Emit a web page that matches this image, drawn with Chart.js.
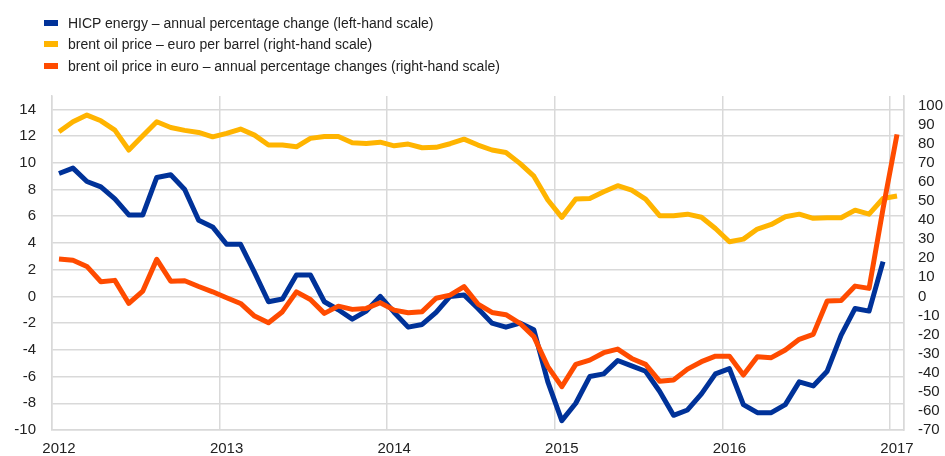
<!DOCTYPE html>
<html lang="en">
<head>
    <meta charset="UTF-8">
    <title>HICP energy and brent oil price</title>
    <script src="https://cdn.jsdelivr.net/npm/chart.js"></script>
    <style>
        body {
            margin: 0;
            background: #fff;
            font-family: 'Liberation Sans', Arial, sans-serif;
        }
        .wrap {
            position: relative;
            width: 945px;
            height: 456px;
        }
        .legend {
            position: absolute;
            left: 44px;
            top: 12.5px;
            font-size: 14px;
            color: #222;
        }
        .legend div {
            height: 21.5px;
            line-height: 21.5px;
            white-space: nowrap;
        }
        .legend span {
            display: inline-block;
            width: 14px;
            height: 6px;
            margin-right: 10px;
            vertical-align: middle;
            position: relative;
            top: -1px;
        }
    </style>
</head>
<body>
    <div class="wrap">
        <canvas id="chart" width="945" height="456"></canvas>
        <div class="legend" id="legend"></div>
    </div>

    <script>
        const years = ['2012', '2013', '2014', '2015', '2016', '2017'];
        const leftTicks = [-10, -8, -6, -4, -2, 0, 2, 4, 6, 8, 10, 12, 14];
        const rightTicks = [-70, -60, -50, -40, -30, -20, -10, 0, 10, 20, 30, 40, 50, 60, 70, 80, 90, 100];
        const seriesNames = [
            'HICP energy – annual percentage change (left-hand scale)',
            'brent oil price – euro per barrel (right-hand scale)',
            'brent oil price in euro – annual percentage changes (right-hand scale)'
        ];
        const colors = ['#003299', '#ffb400', '#ff4b00'];

        // monthly, Jan 2012 - Jan 2017
        const hicpEnergy = [
            9.2, 9.6, 8.6, 8.2, 7.3, 6.1, 6.1, 8.9, 9.1, 8.0, 5.7, 5.2,
            3.9, 3.9, 1.8, -0.4, -0.2, 1.6, 1.6, -0.4, -1.0, -1.7, -1.1, 0.0,
            -1.2, -2.3, -2.1, -1.2, 0.0, 0.1, -0.9, -2.0, -2.3, -2.0, -2.5, -6.4,
            -9.3, -8.0, -6.0, -5.8, -4.8, -5.2, -5.6, -7.1, -8.9, -8.5, -7.3, -5.8,
            -5.4, -8.1, -8.7, -8.7, -8.1, -6.4, -6.7, -5.6, -2.9, -0.9, -1.1, 2.6,
            null
        ];
        const brentEur = [
            86.3, 91.5, 95.0, 92.0, 87.1, 76.7, 84.2, 91.5, 88.5, 87.0, 85.9, 83.6,
            85.4, 87.7, 84.5, 79.3, 79.3, 78.4, 82.8, 83.8, 83.8, 80.5, 80.1, 80.8,
            78.9, 79.8, 77.9, 78.1, 80.0, 82.4, 79.3, 76.7, 75.4, 69.7, 63.0, 50.5,
            41.4, 51.0, 51.3, 54.8, 58.0, 55.7, 51.0, 42.3, 42.3, 43.1, 41.5, 35.6,
            28.6, 30.0, 35.3, 37.7, 41.7, 43.1, 40.9, 41.2, 41.2, 45.2, 43.1, 51.3,
            52.6
        ];
        const brentEurChange = [
            19.6, 18.9, 15.7, 7.7, 8.4, -3.7, 2.8, 19.4, 8.0, 8.2, 5.2, 2.4,
            -0.7, -3.7, -10.3, -13.8, -8.0, 2.4, -1.6, -8.9, -5.1, -6.8, -6.3, -3.3,
            -7.2, -8.6, -8.0, -1.0, 0.7, 5.1, -4.0, -8.4, -9.6, -14.1, -21.1, -36.8,
            -47.3, -35.6, -33.4, -29.5, -27.6, -32.5, -35.6, -44.4, -43.8, -38.1, -34.2, -31.3,
            -31.3, -41.2, -31.6, -32.1, -28.1, -22.5, -19.9, -2.4, -2.1, 5.4, 4.2, 46.0,
            84.9
        ];

        const months = [];
        years.forEach(y => {
            for (let m = 1; m <= 12; m++) {
                if (y === '2017' && m > 1) break;
                months.push(y + '-' + String(m).padStart(2, '0'));
            }
        });

        // html legend, one entry per line
        document.getElementById('legend').innerHTML = seriesNames
            .map((n, i) => `<div><span style="background:${colors[i]}"></span>${n}</div>`)
            .join('');

        const gridColor = '#d9d9d9';
        Chart.defaults.font.family = "'Liberation Sans', Arial, sans-serif";
        Chart.defaults.font.size = 15;
        Chart.defaults.color = '#222';

        const line = (data, i, axis, order) => ({
            label: seriesNames[i],
            data: data,
            yAxisID: axis,
            borderColor: colors[i],
            backgroundColor: colors[i],
            borderWidth: 5,
            pointRadius: 0,
            tension: 0,
            fill: false,
            borderJoinStyle: 'round',
            order: order
        });

        new Chart(document.getElementById('chart'), {
            type: 'line',
            data: {
                labels: months,
                datasets: [
                    line(hicpEnergy, 0, 'yLeft', 2),
                    line(brentEur, 1, 'yRight', 1),
                    line(brentEurChange, 2, 'yRight', 0)
                ]
            },
            options: {
                responsive: false,
                animation: false,
                layout: { padding: { top: 96, left: 0, right: 0, bottom: 0 } },
                plugins: {
                    legend: { display: false },
                    tooltip: { enabled: false }
                },
                scales: {
                    x: {
                        offset: true,
                        grid: {
                            offset: true,
                            drawTicks: false,
                            lineWidth: 1.5,
                            color: ctx => {
                                if (!ctx.tick) return gridColor;
                                return months[ctx.index].endsWith('-01') ? gridColor : 'transparent';
                            }
                        },
                        border: { color: gridColor, width: 1.5 },
                        ticks: {
                            autoSkip: false,
                            maxRotation: 0,
                            padding: 10,
                            callback: (v, i) => months[i].endsWith('-01') ? months[i].slice(0, 4) : ''
                        },
                        afterFit: s => { s.height = 26; }
                    },
                    yLeft: {
                        position: 'left',
                        min: -10,
                        max: 15,
                        ticks: { padding: 16, autoSkip: false },
                        afterBuildTicks: s => { s.ticks = leftTicks.map(v => ({ value: v })); },
                        grid: { color: gridColor, lineWidth: 1.5, drawTicks: false },
                        border: { color: gridColor, width: 1.5 },
                        afterFit: s => { s.width = 52; }
                    },
                    yRight: {
                        position: 'right',
                        min: -70,
                        max: 105,
                        ticks: { padding: 14, autoSkip: false },
                        afterBuildTicks: s => { s.ticks = rightTicks.map(v => ({ value: v })); },
                        grid: { display: false, drawTicks: false },
                        border: { color: gridColor, width: 1.5 },
                        afterFit: s => { s.width = 41; }
                    }
                }
            }
        });
    </script>
</body>
</html>
